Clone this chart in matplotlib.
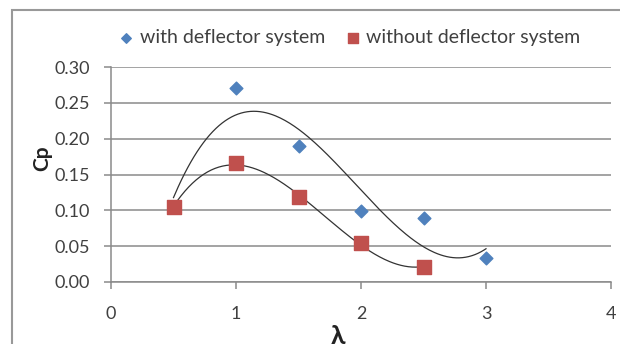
#!/usr/bin/env python
'''Cp vs tip speed ratio, with and without deflector system.'''

import numpy as np
import matplotlib
matplotlib.use('Agg')
import matplotlib.pyplot as plt
from matplotlib.patches import Rectangle

plt.rcParams['font.family'] = ['Lato', 'DejaVu Sans']

# data
lam_with = [0.5, 1.0, 1.5, 2.0, 2.5, 3.0]
cp_with = [0.105, 0.271, 0.190, 0.099, 0.090, 0.033]
lam_without = [0.5, 1.0, 1.5, 2.0, 2.5]
cp_without = [0.105, 0.166, 0.118, 0.054, 0.021]
yticks = [0.00, 0.05, 0.10, 0.15, 0.20, 0.25, 0.30]

BLUE = '#4F81BD'
RED = '#C0504D'
TXT = '#404040'

fig = plt.figure(figsize=(6.2, 3.44), dpi=100)
# chart area frame (right/bottom edges fall outside the picture)
fig.patches.append(Rectangle((12 / 620, -0.1), 1.2, 1 - 10 / 344 + 0.1,
                             transform=fig.transFigure, fill=False,
                             edgecolor='#999999', linewidth=1.5))
ax = fig.add_axes([111 / 620, 1 - 282 / 344, 500 / 620, 215 / 344])

# cubic polynomial trendlines, like excel
for x, y in [(lam_with, cp_with), (lam_without, cp_without)]:
    p = np.polyfit(x, y, 3)
    xs = np.linspace(min(x), max(x), 200)
    ax.plot(xs, np.polyval(p, xs), color='#333333', lw=0.9, zorder=2)

ax.scatter(lam_with, cp_with, marker='D', s=42, color=BLUE,
           label='with deflector system', zorder=3)
ax.scatter(lam_without, cp_without, marker='s', s=90, color=RED,
           label='without deflector system', zorder=4)

ax.set_xlim(0, 4)
ax.set_ylim(0, 0.30)
ax.set_xticks([0, 1, 2, 3, 4])
ax.set_yticks(yticks)
ax.set_yticklabels(['%.2f' % v for v in yticks])
ax.yaxis.grid(True, color='#8a8a8a', lw=1.1)
ax.set_axisbelow(True)
for s in ['top', 'right']:
    ax.spines[s].set_visible(False)
for s in ['left', 'bottom']:
    ax.spines[s].set_color('#8a8a8a')
    ax.spines[s].set_linewidth(1.1)
ax.tick_params(colors='#8a8a8a', labelcolor=TXT, labelsize=13,
               length=5, width=1.1)
ax.tick_params(axis='x', pad=12)
ax.tick_params(axis='y', pad=10)

ax.set_ylabel('Cp', fontsize=15, fontweight='bold', color='#222222')
ax.yaxis.set_label_coords(-0.118, 0.577)
ax.set_xlabel('λ', fontsize=19, fontweight='bold', color='#222222')
ax.xaxis.set_label_coords(0.454, -0.195)

leg = ax.legend(loc='center', bbox_to_anchor=(0.475, 1.135), ncol=2,
                frameon=False, fontsize=14, handletextpad=0.2,
                handlelength=1.0, columnspacing=0.9, scatterpoints=1,
                markerscale=0.75, borderaxespad=0)
for t in leg.get_texts():
    t.set_color(TXT)

fig.savefig('out.png', dpi=100)
